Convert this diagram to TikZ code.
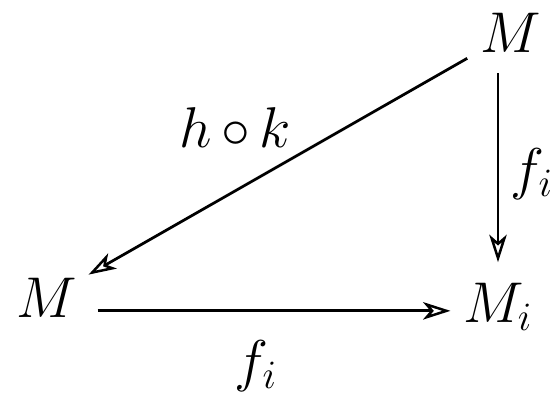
\RequirePackage{fix-cm}
\documentclass[tikz,border=0pt]{standalone}
\usetikzlibrary{arrows.meta}
\begin{document}
\begin{tikzpicture}[x=0.4pt,y=-0.4pt,
  lbl/.style={inner sep=0pt,font=\fontsize{23}{26}\selectfont},
  arr/.style={line width=1.1pt,-{Stealth[open,length=11pt,width=7pt,inset=3pt,line width=1pt]}}]
\useasboundingbox (0,0) rectangle (551,397);
\node[lbl,anchor=base] (m1) at (511,53) {$M$};
\node[lbl,anchor=base] (m2) at (47,318) {$M$};
\node[lbl,anchor=base west] (mi) at (463,322) {$M_i$};
\node[lbl] (hk) at (235,128) {$h\mskip3mu{\circ}\mskip3mu k$};
\node[lbl] (fr) at (532,174) {$f_i$};
\node[lbl] (fb) at (256,366) {$f_i$};
\draw[arr,shorten <=6pt,shorten >=5pt] (m1) -- (m2);
\draw[arr,shorten <=8pt,shorten >=8pt] ([xshift=-5.2pt]m1.south) -- ([xshift=-5.2pt]m1.south |- mi.north);
\draw[arr,shorten <=8pt,shorten >=5pt] ([yshift=-5pt]m2.east) -- ([yshift=-5pt]m2.east -| mi.west);
\end{tikzpicture}
\end{document}
